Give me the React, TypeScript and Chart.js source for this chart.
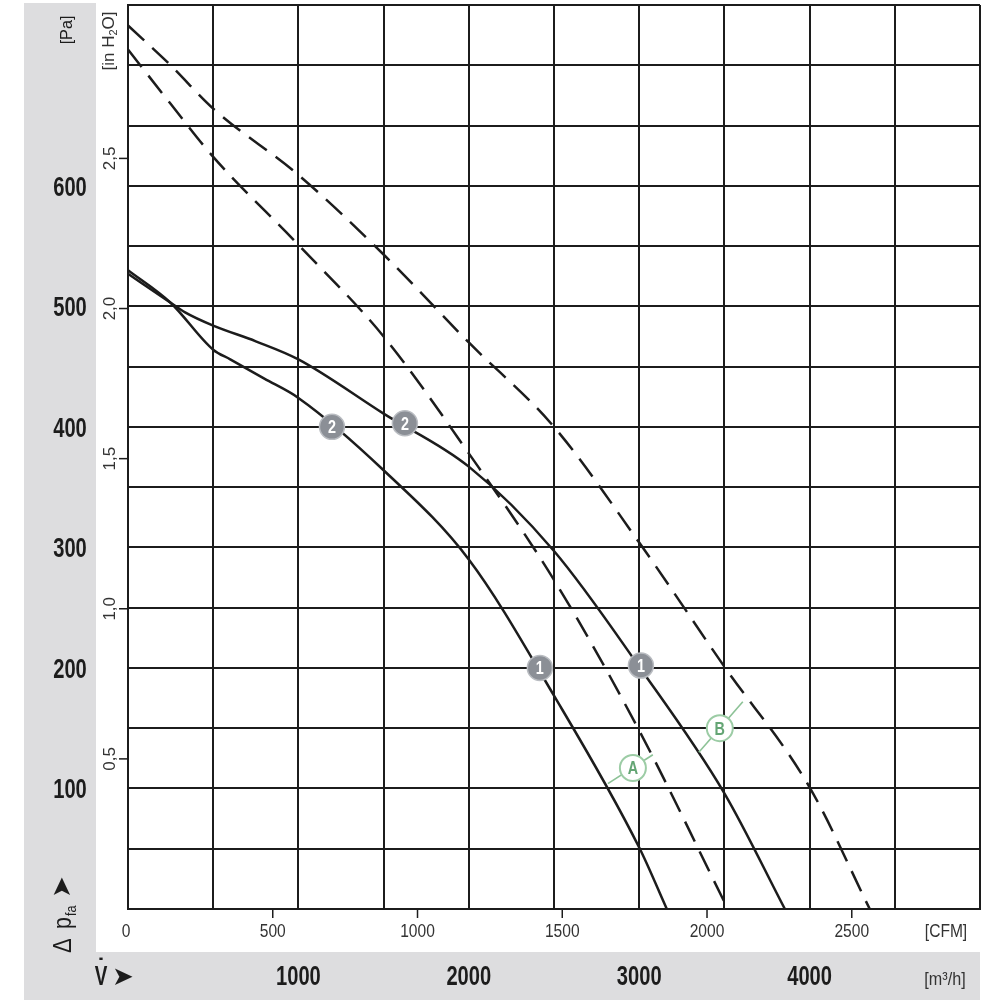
import React, { useEffect, useRef } from 'react';
import { Chart, registerables } from 'chart.js';

Chart.register(...registerables);

// ---- data (flow in m³/h, pressure in Pa) ----
const flowB = [0, 250, 500, 1000, 1500, 2000, 2500, 3000, 3500, 4000, 4353];
const paB = [733, 700, 664, 609, 543, 470, 400, 304, 201, 101, 0];

const flowA = [0, 250, 500, 1000, 1500, 2000, 2500, 3000, 3503];
const paA = [713, 668, 624, 551, 475, 378, 273, 148, 5];

const flowUpper = [0, 250, 335, 500, 750, 1000, 1500, 2000, 2500, 3000, 3500, 3855];
const paUpper = [527, 503, 495, 484, 471, 456, 411, 367, 297, 201, 96, 0];

const flowLower = [0, 250, 500, 600, 800, 1000, 1500, 2000, 2500, 3000, 3162];
const paLower = [530, 503, 464, 456, 440, 424, 364, 290, 177, 51, 0];

// numbered markers on the solid curves
const markerFlow = [1197, 1625, 2417, 3010];
const markerPa = [400, 403, 200, 202];
const markerText = ['2', '2', '1', '1'];

// green lettered labels with leader lines
const letterText = ['A', 'B'];
const letterFlow = [2963, 3473];
const letterPa = [117, 150];
const leaderFromFlow = [2816, 3350];
const leaderFromPa = [104, 130];
const leaderToFlow = [3080, 3608];
const leaderToPa = [128, 172];

// axis tick labels
const paTicks = [100, 200, 300, 400, 500, 600];
const inH2OTicks = [0.5, 1.0, 1.5, 2.0, 2.5];
const inH2OLabels = ['0,5', '1,0', '1,5', '2,0', '2,5'];
const cfmTicks = [0, 500, 1000, 1500, 2000, 2500];
const m3hTicks = [1000, 2000, 3000, 4000];

const PA_PER_INH2O = 249.089;
const M3H_PER_CFM = 1.699;

const GREY = '#dddddf';
const INK = '#1c1c1c';
const FONT = '"Liberation Sans", Arial, sans-serif';

type TxtOpt = {
  size: number;
  weight?: string;
  align?: CanvasTextAlign;
  sx?: number;
  rot?: number;
  color?: string;
};

function drawText(ctx: CanvasRenderingContext2D, text: string, x: number, y: number, o: TxtOpt) {
  ctx.save();
  ctx.translate(x, y);
  if (o.rot) ctx.rotate(o.rot);
  ctx.scale(o.sx ?? 1, 1);
  ctx.font = `${o.weight ?? 'normal'} ${o.size}px ${FONT}`;
  ctx.textAlign = o.align ?? 'center';
  ctx.textBaseline = 'alphabetic';
  ctx.fillStyle = o.color ?? INK;
  ctx.fillText(text, 0, 0);
  ctx.restore();
}

const pts = (xs: number[], ys: number[]) => xs.map((x, i) => ({ x, y: ys[i] }));

export default function App() {
  const ref = useRef<HTMLCanvasElement | null>(null);

  useEffect(() => {
    const canvas = ref.current;
    if (!canvas) return;

    const decor = {
      id: 'decor',
      beforeDraw(chart: any) {
        const ctx = chart.ctx as CanvasRenderingContext2D;
        ctx.save();
        ctx.fillStyle = '#ffffff';
        ctx.fillRect(0, 0, 1000, 1000);
        ctx.fillStyle = GREY;
        ctx.fillRect(24, 3, 72, 997);
        ctx.fillRect(24, 952, 956, 48);
        ctx.restore();
      },
      afterDatasetsDraw(chart: any) {
        const ctx = chart.ctx as CanvasRenderingContext2D;
        const xs = chart.scales.x;
        const ys = chart.scales.y;
        ctx.save();
        // leader lines
        ctx.strokeStyle = '#8cc296';
        ctx.lineWidth = 1.6;
        for (let i = 0; i < letterText.length; i++) {
          ctx.beginPath();
          ctx.moveTo(xs.getPixelForValue(leaderFromFlow[i]), ys.getPixelForValue(leaderFromPa[i]));
          ctx.lineTo(xs.getPixelForValue(leaderToFlow[i]), ys.getPixelForValue(leaderToPa[i]));
          ctx.stroke();
        }
        for (let i = 0; i < letterText.length; i++) {
          const px = xs.getPixelForValue(letterFlow[i]);
          const py = ys.getPixelForValue(letterPa[i]);
          ctx.beginPath();
          ctx.arc(px, py, 13, 0, Math.PI * 2);
          ctx.fillStyle = '#ffffff';
          ctx.fill();
          ctx.lineWidth = 2;
          ctx.strokeStyle = '#9ccca5';
          ctx.stroke();
          drawText(ctx, letterText[i], px, py + 6.5, { size: 18, weight: 'bold', sx: 0.8, color: '#64a574' });
        }
        // numbered grey markers
        for (let i = 0; i < markerText.length; i++) {
          const px = xs.getPixelForValue(markerFlow[i]);
          const py = ys.getPixelForValue(markerPa[i]);
          ctx.beginPath();
          ctx.arc(px, py, 12.5, 0, Math.PI * 2);
          ctx.fillStyle = '#8b8f96';
          ctx.fill();
          ctx.lineWidth = 1.5;
          ctx.strokeStyle = '#b9bcc1';
          ctx.stroke();
          drawText(ctx, markerText[i], px, py + 6.5, { size: 18, weight: 'bold', sx: 0.8, color: '#ffffff' });
        }
        ctx.restore();
      },
      afterDraw(chart: any) {
        const ctx = chart.ctx as CanvasRenderingContext2D;
        const xs = chart.scales.x;
        const ys = chart.scales.y;
        const area = chart.chartArea;
        ctx.save();
        // Pa labels
        paTicks.forEach((v) => {
          drawText(ctx, String(v), 70, ys.getPixelForValue(v) + 10, { size: 28, weight: 'bold', sx: 0.72 });
        });
        drawText(ctx, '[Pa]', 72, 30, { size: 17, rot: -Math.PI / 2, sx: 0.95 });
        // in H2O ticks + labels
        ctx.strokeStyle = INK;
        ctx.lineWidth = 1.5;
        inH2OTicks.forEach((v, i) => {
          const py = ys.getPixelForValue(v * PA_PER_INH2O);
          ctx.beginPath();
          ctx.moveTo(119, py);
          ctx.lineTo(area.left, py);
          ctx.stroke();
          drawText(ctx, inH2OLabels[i], 115, py, { size: 17, rot: -Math.PI / 2, color: '#333' });
        });
        // [in H2O] label with subscript
        {
          ctx.save();
          ctx.translate(114, 41);
          ctx.rotate(-Math.PI / 2);
          ctx.fillStyle = '#333';
          ctx.textBaseline = 'alphabetic';
          ctx.textAlign = 'left';
          const big = `normal 17px ${FONT}`;
          const small = `normal 11px ${FONT}`;
          ctx.font = big;
          const w1 = ctx.measureText('[in H').width;
          const w3 = ctx.measureText('O]').width;
          ctx.font = small;
          const w2 = ctx.measureText('2').width;
          let x0 = -(w1 + w2 + w3) / 2;
          ctx.font = big;
          ctx.fillText('[in H', x0, 0);
          x0 += w1;
          ctx.font = small;
          ctx.fillText('2', x0, 3);
          x0 += w2;
          ctx.font = big;
          ctx.fillText('O]', x0, 0);
          ctx.restore();
        }
        // CFM ticks + labels
        cfmTicks.forEach((v) => {
          const px = xs.getPixelForValue(v * M3H_PER_CFM);
          if (v > 0) {
            ctx.beginPath();
            ctx.moveTo(px, area.bottom);
            ctx.lineTo(px, area.bottom + 9);
            ctx.stroke();
          }
          drawText(ctx, String(v), px - (v === 0 ? 2 : 0), 937, { size: 19, sx: 0.82, color: '#333' });
        });
        drawText(ctx, '[CFM]', 946, 937, { size: 19, sx: 0.82, color: '#333' });
        // m3/h labels
        m3hTicks.forEach((v) => {
          drawText(ctx, String(v), xs.getPixelForValue(v), 985, { size: 28, weight: 'bold', sx: 0.72 });
        });
        drawText(ctx, '[m³/h]', 945, 985, { size: 19, sx: 0.85, color: '#333' });
        // V-dot arrow
        drawText(ctx, 'V', 101, 985, { size: 27, weight: 'bold', sx: 0.7 });
        drawText(ctx, '˙', 101, 975, { size: 24, weight: 'bold', sx: 1 });
        drawText(ctx, '➤', 123, 985, { size: 26, color: INK, sx: 1 });
        // Δ p_fa arrow, rotated
        {
          ctx.save();
          ctx.translate(71, 953);
          ctx.rotate(-Math.PI / 2);
          ctx.fillStyle = INK;
          ctx.textBaseline = 'alphabetic';
          ctx.textAlign = 'left';
          ctx.font = `normal 26px ${FONT}`;
          ctx.save();
          ctx.scale(0.85, 1);
          ctx.fillText('Δ', 0, 0);
          ctx.restore();
          ctx.font = `normal 25px ${FONT}`;
          ctx.save();
          ctx.translate(24, 0);
          ctx.scale(0.85, 1);
          ctx.fillText('p', 0, 0);
          ctx.restore();
          ctx.font = `normal 14px ${FONT}`;
          ctx.save();
          ctx.translate(37, 5);
          ctx.scale(0.9, 1);
          ctx.fillText('fa', 0, 0);
          ctx.restore();
          ctx.font = `normal 26px ${FONT}`;
          ctx.fillText('➤', 55, -1);
          ctx.restore();
        }
        ctx.restore();
      },
    };

    const solid = (data: any) => ({
      data,
      borderColor: INK,
      borderWidth: 2.5,
      pointRadius: 0,
      fill: false,
      cubicInterpolationMode: 'monotone' as const,
    });

    const chart = new Chart(canvas, {
      type: 'line',
      data: {
        datasets: [
          { ...solid(pts(flowB, paB)), borderDash: [22, 11] },
          { ...solid(pts(flowA, paA)), borderDash: [22, 11] },
          solid(pts(flowUpper, paUpper)),
          solid(pts(flowLower, paLower)),
        ],
      },
      options: {
        animation: false,
        responsive: false,
        maintainAspectRatio: false,
        devicePixelRatio: 1,
        layout: { padding: { left: 128, right: 20, top: 5, bottom: 91 } },
        plugins: { legend: { display: false }, tooltip: { enabled: false } },
        scales: {
          x: {
            type: 'linear',
            min: 0,
            max: 5000,
            ticks: { display: false, stepSize: 500 },
            grid: { color: INK, lineWidth: 2, drawTicks: false },
            border: { display: true, color: INK, width: 2 },
          },
          y: {
            type: 'linear',
            min: 0,
            max: 750,
            ticks: { display: false, stepSize: 50 },
            grid: { color: INK, lineWidth: 2, drawTicks: false },
            border: { display: true, color: INK, width: 2 },
          },
        },
      },
      plugins: [decor],
    });

    return () => chart.destroy();
  }, []);

  return (
    <div style={{ position: 'absolute', left: 0, top: 0, width: 1000, height: 1000 }}>
      <canvas ref={ref} width={1000} height={1000} style={{ width: 1000, height: 1000, display: 'block' }} />
    </div>
  );
}
